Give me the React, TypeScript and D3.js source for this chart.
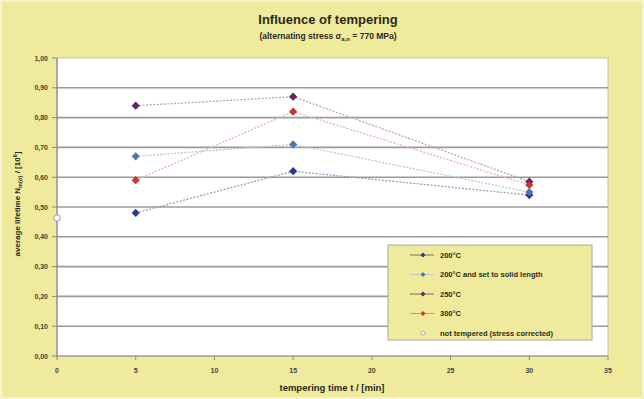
import React from "react";
import * as d3 from "d3";

const times = [5, 15, 30];
const s200 = [0.48, 0.62, 0.54];
const s200solid = [0.67, 0.71, 0.55];
const s250 = [0.84, 0.87, 0.585];
const s300 = [0.59, 0.82, 0.574];
const notTemperedT = [0];
const notTempered = [0.463];
const xTicks = [0, 5, 10, 15, 20, 25, 30, 35];
const yTicks = [0, 0.1, 0.2, 0.3, 0.4, 0.5, 0.6, 0.7, 0.8, 0.9, 1.0];
const legendLabels = ["200°C", "200°C and set to solid length", "250°C", "300°C", "not tempered (stress corrected)"];

const series = [
  { name: legendLabels[0], values: s200, color: "#2c3a8c", line: "#9a9cc0" },
  { name: legendLabels[1], values: s200solid, color: "#4a78b0", line: "#bcc6d8" },
  { name: legendLabels[2], values: s250, color: "#5a2866", line: "#bca2c2" },
  { name: legendLabels[3], values: s300, color: "#c8352d", line: "#e8b4ae" },
];

export default function App() {
  const W = 644, H = 399;
  const x = d3.scaleLinear().domain([0, 35]).range([57, 608]);
  const y = d3.scaleLinear().domain([0, 1]).range([356, 58]);
  const line = d3.line<number>();
  const diamond = d3.symbol().type(d3.symbolSquare).size(34)() as string;
  const diamondSmall = d3.symbol().type(d3.symbolSquare).size(12)() as string;
  const font = "'Liberation Sans', Arial, sans-serif";
  const lx = 388, ly = 245;
  return (
    <svg width={W} height={H} style={{ position: "absolute", left: 0, top: 0, display: "block" }}>
      <rect x={0} y={0} width={W} height={H} fill="#f0ea9c" />
      <rect x={1} y={1} width={W - 2} height={H - 2} fill="none" stroke="#f7f3cf" strokeWidth={2} />
      <text x={328} y={24} textAnchor="middle" fontFamily={font} fontWeight="bold" fontSize={13} fill="#2a2a1a">Influence of tempering</text>
      <text x={328} y={38.5} textAnchor="middle" fontFamily={font} fontWeight="bold" fontSize={8.5} fill="#2a2a1a">
        (alternating stress σ<tspan fontSize={6} dy={2}>a,n</tspan><tspan dy={-2}> = 770 MPa)</tspan>
      </text>
      <rect x={x(0)} y={y(1)} width={x(35) - x(0)} height={y(0) - y(1)} fill="#ffffff" stroke="#c0c0b8" strokeWidth={1} />
      {yTicks.slice(1, -1).map((t) => (
        <line key={"g" + t} x1={x(0)} x2={x(35)} y1={y(t)} y2={y(t)} stroke="#9a9a9a" strokeWidth={1.6} />
      ))}
      <line x1={x(0)} x2={x(0)} y1={y(0)} y2={y(1)} stroke="#8a8a8a" strokeWidth={1.2} />
      <line x1={x(0)} x2={x(35)} y1={y(0)} y2={y(0)} stroke="#8a8a8a" strokeWidth={1.2} />
      {yTicks.map((t) => (
        <g key={"y" + t}>
          <line x1={x(0) - 5} x2={x(0)} y1={y(t)} y2={y(t)} stroke="#8a8a8a" />
          <text x={48} y={y(t) + 2.5} textAnchor="end" fontFamily={font} fontWeight="bold" fontSize={7} fill="#444">
            {t.toFixed(2).replace(".", ",")}
          </text>
        </g>
      ))}
      {xTicks.map((t) => (
        <g key={"x" + t}>
          <line x1={x(t)} x2={x(t)} y1={y(0)} y2={y(0) + 4} stroke="#8a8a8a" />
          <text x={x(t)} y={373} textAnchor="middle" fontFamily={font} fontWeight="bold" fontSize={7} fill="#444">{t}</text>
        </g>
      ))}
      <text x={332} y={391} textAnchor="middle" fontFamily={font} fontWeight="bold" fontSize={9.5} fill="#2a2a1a">tempering time t / [min]</text>
      <text transform={`translate(20,204) rotate(-90)`} textAnchor="middle" fontFamily={font} fontWeight="bold" fontSize={8} fill="#2a2a1a">
        average lifetime N<tspan fontSize={5.5} dy={1.5}>m(σ)</tspan><tspan dy={-1.5}> / [10</tspan><tspan fontSize={5.5} dy={-3}>6</tspan><tspan dy={3}>]</tspan>
      </text>
      {series.map((s) => (
        <path key={"l" + s.name} d={line(s.values.map((v, i) => [x(times[i]), y(v)]) as any) || ""} fill="none" stroke={s.line} strokeWidth={1.3} strokeDasharray="2,1.5" />
      ))}
      {series.map((s) => s.values.map((v, i) => (
        <path key={s.name + i} d={diamond} transform={`translate(${x(times[i])},${y(v)}) rotate(45)`} fill={s.color} />
      )))}
      {notTempered.map((v, i) => (
        <circle key={"nt" + i} cx={x(notTemperedT[i])} cy={y(v)} r={3.2} fill="#ffffff" stroke="#9a9aaa" strokeWidth={1} />
      ))}
      <rect x={lx} y={ly} width={204} height={95} fill="#f0ea9c" stroke="#b5b5a5" strokeWidth={1.2} />
      {legendLabels.map((name, i) => {
        const cy = ly + 10 + i * 19.5;
        const s = series[i];
        return (
          <g key={"lg" + i}>
            {s && <line x1={lx + 22} x2={lx + 46} y1={cy} y2={cy} stroke={i === 3 ? "#e07a50" : i === 1 ? "#b8c4cc" : "#555"} strokeWidth={0.8} />}
            {s ? (
              <path d={diamondSmall} transform={`translate(${lx + 35},${cy}) rotate(45)`} fill={s.color} />
            ) : (
              <circle cx={lx + 35} cy={cy} r={2} fill="#ffffff" stroke="#9a9aaa" strokeWidth={0.8} />
            )}
            <text x={lx + 52} y={cy + 2.5} fontFamily={font} fontWeight="bold" fontSize={7.5} fill="#2a2a1a">{name}</text>
          </g>
        );
      })}
    </svg>
  );
}
